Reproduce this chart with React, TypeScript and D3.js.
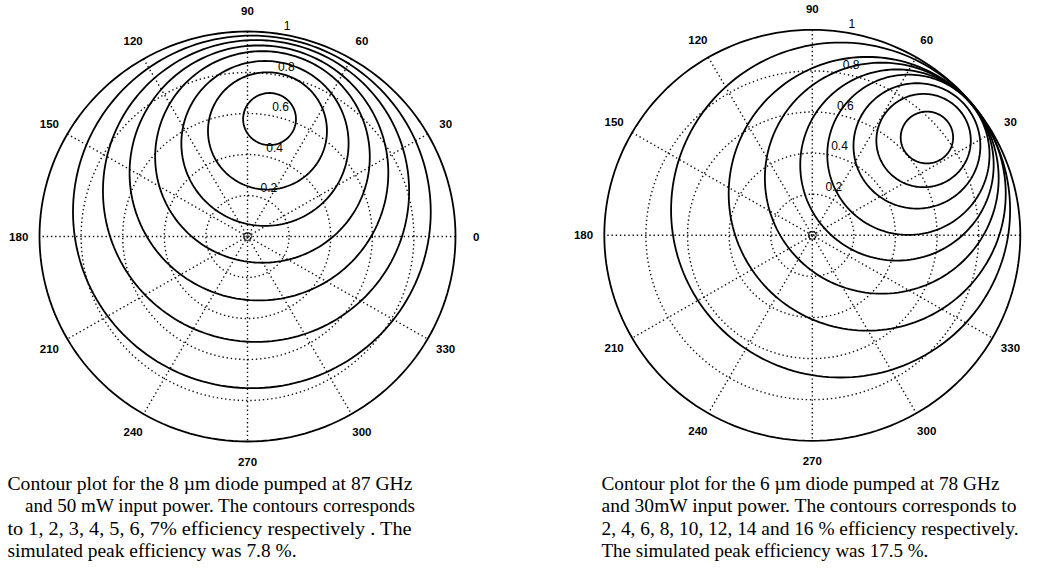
import React from 'react';
import * as d3 from 'd3';

// ---- polar axis ticks ----
const ANGLE_TICKS = [0, 30, 60, 90, 120, 150, 180, 210, 240, 270, 300, 330];
const SPOKE_ANGLES = [0, 30, 60, 90, 120, 150];
const RADIAL_TICKS = [0.2, 0.4, 0.6, 0.8, 1];

// ---- left panel: 8 um diode, 87 GHz, 50 mW; contour levels (efficiency %) ----
const LEFT_LEVELS = [7, 6, 5, 4, 3, 2, 1];
// contour circle centre (reflection-coefficient plane, real / imag) and radius
const LEFT_RE = [0.106, 0.096, 0.084, 0.072, 0.055, 0.041, 0.021];
const LEFT_IM = [0.573, 0.515, 0.454, 0.388, 0.31, 0.222, 0.12];
const LEFT_RAD = [0.127, 0.286, 0.402, 0.516, 0.622, 0.736, 0.86];

// ---- right panel: 6 um diode, 78 GHz, 30 mW ----
const RIGHT_LEVELS = [16, 14, 12, 10, 8, 6, 4, 2];
const RIGHT_RE = [0.551, 0.535, 0.503, 0.462, 0.407, 0.334, 0.264, 0.136];
const RIGHT_IM = [0.476, 0.461, 0.435, 0.392, 0.342, 0.278, 0.202, 0.123];
const RIGHT_RAD = [0.126, 0.227, 0.305, 0.39, 0.465, 0.562, 0.666, 0.815];

// ---- captions ----
const LEFT_CAPTION = [
  'Contour plot for the 8 \u00b5m  diode pumped at 87 GHz',
  'and 50 mW  input power. The contours corresponds',
  'to 1, 2, 3,  4,  5,  6, 7% efficiency respectively . The',
  'simulated peak efficiency was 7.8 %.',
];
const RIGHT_CAPTION = [
  'Contour plot for the 6 \u00b5m  diode pumped at 78 GHz',
  'and 30mW  input power. The contours corresponds to',
  '2, 4, 6, 8, 10, 12, 14 and 16 % efficiency respectively.',
  'The simulated peak efficiency was 17.5 %.',
];

const SANS = '"Liberation Sans", Arial, Helvetica, sans-serif';
const SERIF = '"Liberation Serif", "Times New Roman", Times, serif';

type PanelProps = {
  cx: number;
  cy: number;
  rx: number;
  ry: number;
  re: number[];
  im: number[];
  rad: number[];
  levels: number[];
};

const circleSteps = d3.range(0, 361, 2).map((d) => (d * Math.PI) / 180);

function PolarPanel({ cx, cy, rx, ry, re, im, rad, levels }: PanelProps) {
  const x = d3.scaleLinear().domain([-1, 1]).range([cx - rx, cx + rx]);
  const y = d3.scaleLinear().domain([-1, 1]).range([cy + ry, cy - ry]);
  const line = d3
    .line<[number, number]>()
    .x((d) => x(d[0]))
    .y((d) => y(d[1]));
  const circ = (u: number, v: number, r: number) =>
    line(circleSteps.map((t) => [u + r * Math.cos(t), v + r * Math.sin(t)] as [number, number])) || '';
  const dotted = { stroke: '#111', strokeWidth: 1.4, strokeDasharray: '1.4 2.8', fill: 'none' };
  const c82 = Math.cos((82 * Math.PI) / 180);
  const s82 = Math.sin((82 * Math.PI) / 180);
  return (
    <g>
      {RADIAL_TICKS.slice(0, -1).map((r) => (
        <path key={'g' + r} d={circ(0, 0, r)} {...dotted} />
      ))}
      {SPOKE_ANGLES.map((a) => {
        const t = (a * Math.PI) / 180;
        return (
          <line
            key={'s' + a}
            x1={x(Math.cos(t))}
            y1={y(Math.sin(t))}
            x2={x(-Math.cos(t))}
            y2={y(-Math.sin(t))}
            {...dotted}
          />
        );
      })}
      <path d={circ(0, 0, 1)} stroke="#000" strokeWidth={1.8} fill="none" />
      {levels.map((lv, i) => (
        <path key={'c' + lv} d={circ(re[i], im[i], rad[i])} stroke="#000" strokeWidth={1.8} fill="none" />
      ))}
      <circle cx={x(0)} cy={y(0)} r={4} stroke="#000" strokeWidth={1} fill="none" />
      {ANGLE_TICKS.map((a) => {
        const t = (a * Math.PI) / 180;
        return (
          <text
            key={'a' + a}
            x={x(1.1 * Math.cos(t))}
            y={y(1.1 * Math.sin(t))}
            dy="0.35em"
            textAnchor="middle"
            fontFamily={SANS}
            fontSize={11.5}
            fontWeight="bold"
            fill="#000"
          >
            {a}
          </text>
        );
      })}
      {RADIAL_TICKS.map((r) => (
        <text
          key={'r' + r}
          x={x((r + 0.01) * c82)}
          y={y((r + 0.01) * s82)}
          dx={7}
          dy={-1.5}
          fontFamily={SANS}
          fontSize={12}
          fill="#000"
        >
          {String(r)}
        </text>
      ))}
    </g>
  );
}

function Caption({
  lines,
  x,
  widths,
  indents,
}: {
  lines: string[];
  x: number;
  widths: (number | undefined)[];
  indents: number[];
}) {
  const baselines = [489.5, 511.5, 534.5, 556.5];
  return (
    <g>
      {lines.map((l, i) => (
        <text
          key={i}
          x={x + indents[i]}
          y={baselines[i]}
          fontFamily={SERIF}
          fontSize={19}
          textLength={widths[i]}
          lengthAdjust={widths[i] ? 'spacingAndGlyphs' : undefined}
          fill="#000"
        >
          {l}
        </text>
      ))}
    </g>
  );
}

export default function App() {
  return (
    <svg
      width={1038}
      height={576}
      viewBox="0 0 1038 576"
      style={{ position: 'fixed', left: 0, top: 0, display: 'block', background: '#fff' }}
    >
      <rect x={0} y={0} width={1038} height={576} fill="#fff" />
      <PolarPanel
        cx={247.5}
        cy={236.5}
        rx={208}
        ry={205}
        re={LEFT_RE}
        im={LEFT_IM}
        rad={LEFT_RAD}
        levels={LEFT_LEVELS}
      />
      <PolarPanel
        cx={812.3}
        cy={235.3}
        rx={208}
        ry={205.5}
        re={RIGHT_RE}
        im={RIGHT_IM}
        rad={RIGHT_RAD}
        levels={RIGHT_LEVELS}
      />
      <Caption lines={LEFT_CAPTION} x={7.5} widths={[405, 390, 404, 289]} indents={[0, 17.5, 0, 0]} />
      <Caption lines={RIGHT_CAPTION} x={601.5} widths={[398, 415, 417, undefined]} indents={[0, 0, 0, 0]} />
    </svg>
  );
}
